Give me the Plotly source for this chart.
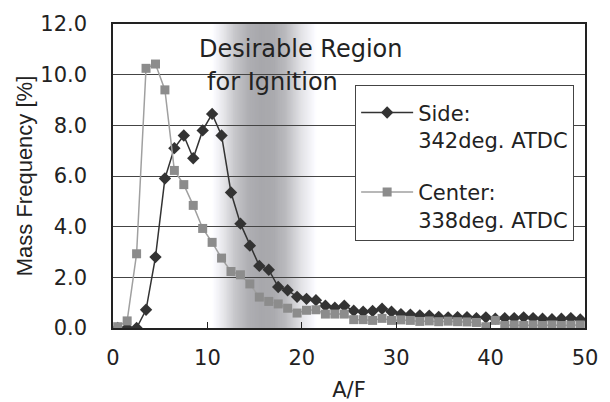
import plotly.graph_objects as go

# A/F bin centres
af = [0.5, 1.5, 2.5, 3.5, 4.5, 5.5, 6.5, 7.5, 8.5, 9.5,
      10.5, 11.5, 12.5, 13.5, 14.5, 15.5, 16.5, 17.5, 18.5, 19.5,
      20.5, 21.5, 22.5, 23.5, 24.5, 25.5, 26.5, 27.5, 28.5, 29.5,
      30.5, 31.5, 32.5, 33.5, 34.5, 35.5, 36.5, 37.5, 38.5, 39.5,
      40.5, 41.5, 42.5, 43.5, 44.5, 45.5, 46.5, 47.5, 48.5, 49.5]

side_342 = [0.0, 0.0, 0.0, 0.72, 2.8, 5.9, 7.1, 7.6, 6.7, 7.8,
            8.45, 7.6, 5.35, 4.12, 3.25, 2.45, 2.3, 1.62, 1.49, 1.23,
            1.15, 1.1, 0.88, 0.8, 0.88, 0.68, 0.64, 0.67, 0.76, 0.64,
            0.55, 0.53, 0.5, 0.49, 0.44, 0.42, 0.43, 0.43, 0.39, 0.42,
            0.37, 0.39, 0.39, 0.42, 0.39, 0.37, 0.35, 0.37, 0.39, 0.34]

center_338 = [0.05, 0.28, 2.93, 10.25, 10.42, 9.4, 6.22, 5.66, 4.84, 3.93,
              3.38, 2.76, 2.23, 2.1, 1.74, 1.22, 1.05, 0.95, 0.78, 0.59,
              0.7, 0.72, 0.55, 0.55, 0.55, 0.33, 0.33, 0.3, 0.38, 0.3,
              0.32, 0.3, 0.26, 0.28, 0.25, 0.27, 0.25, 0.24, 0.22, 0.05,
              0.3, 0.1, 0.12, 0.1, 0.12, 0.1, 0.12, 0.1, 0.11, 0.12]

x_ticks = [0, 10, 20, 30, 40, 50]
y_ticks = [0, 2, 4, 6, 8, 10, 12]

# Desirable region band (A/F range) and its grey profile (fraction, grey level)
band_start, band_end = 10.5, 21.6
band_profile = [(0.0, 255), (0.1, 232), (0.22, 198), (0.34, 176), (0.46, 168),
                (0.58, 170), (0.7, 186), (0.85, 226), (1.0, 255)]
band_strips = 120

FONT_H = "DejaVu Sans, Verdana, sans-serif"
FONT_V = "Liberation Sans, Arial, sans-serif"


def grey_at(t):
    for (t0, g0), (t1, g1) in zip(band_profile[:-1], band_profile[1:]):
        if t0 <= t <= t1:
            f = (t - t0) / (t1 - t0) if t1 > t0 else 0
            return g0 + (g1 - g0) * f
    return 255


# nested strips: each one runs to the band end, so no seams appear
shapes = []
w = (band_end - band_start) / band_strips
for i in range(band_strips):
    t = (i + 0.5) / band_strips
    g = int(round(grey_at(t)))
    col = f"rgb({g},{g},{min(255, g + 4)})"
    shapes.append(dict(type="rect", xref="x", yref="y",
                       x0=band_start + i * w, x1=band_end,
                       y0=0, y1=12, fillcolor=col, line=dict(width=0),
                       layer="below"))

fig = go.Figure()
fig.add_trace(go.Scatter(
    x=af, y=side_342, mode="lines+markers",
    name="Side:<br>342deg. ATDC", legendgroup="a",
    line=dict(color="#333333", width=1.5),
    marker=dict(symbol="diamond", size=9.5, color="#333333"),
))
fig.add_trace(go.Scatter(
    x=af, y=center_338, mode="lines+markers",
    name="Center:<br>338deg. ATDC", legendgroup="b",
    line=dict(color="#a0a0a0", width=1.5),
    marker=dict(symbol="square", size=9, color="#8c8c8c"),
))

fig.add_annotation(x=8.85, y=11.0, xref="x", yref="y", text="Desirable Region",
                   showarrow=False, xanchor="left", yanchor="middle",
                   font=dict(size=24, color="#222222", family=FONT_H))
fig.add_annotation(x=9.7, y=9.72, xref="x", yref="y", text="for Ignition",
                   showarrow=False, xanchor="left", yanchor="middle",
                   font=dict(size=24, color="#222222", family=FONT_H))

fig.update_layout(
    width=610, height=402,
    margin=dict(l=113, r=25, t=24, b=74),
    paper_bgcolor="white", plot_bgcolor="white",
    font=dict(family=FONT_H, size=21, color="#222222"),
    shapes=shapes,
    showlegend=True,
    legend=dict(x=0.513, y=0.80, xanchor="left", yanchor="top",
                bgcolor="white", bordercolor="#444444", borderwidth=1,
                font=dict(size=21, family=FONT_H, color="#222222"),
                title=dict(text=" ", font=dict(size=5)),
                valign="top", tracegroupgap=22, itemwidth=52),
    xaxis=dict(range=[0, 50], tickvals=x_ticks, ticks="inside", ticklen=6,
               tickcolor="#222222", showline=True, linecolor="#222222",
               linewidth=1.5, mirror=True, showgrid=False, zeroline=False,
               ticklabelstandoff=10, automargin=False,
               title=dict(text="A/F", standoff=15, font=dict(size=21))),
    yaxis=dict(range=[0, 12], tickvals=y_ticks, tickformat=".1f", ticks="",
               showline=True, linecolor="#222222", linewidth=1.5, mirror=True,
               showgrid=True, gridcolor="#444444", gridwidth=1, zeroline=False,
               ticklabelstandoff=20, automargin=False,
               title=dict(text="Mass Frequency [%]", standoff=2,
                          font=dict(size=22, family=FONT_V))),
)

fig.write_html("out.html")
